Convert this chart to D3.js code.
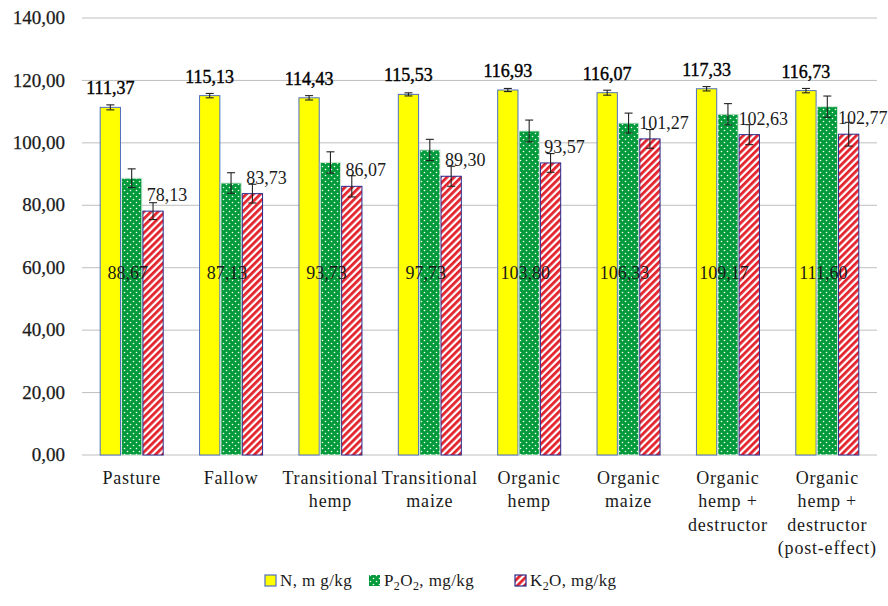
<!DOCTYPE html>
<html>
<head>
<meta charset="utf-8">
<script src="https://cdn.jsdelivr.net/npm/d3@7"></script>
</head>
<body style="margin:0">
<script>
// categories (each one split into the lines shown under the axis)
const categoryLines = [
  ["Pasture"],
  ["Fallow"],
  ["Transitional", "hemp"],
  ["Transitional", "maize"],
  ["Organic", "hemp"],
  ["Organic", "maize"],
  ["Organic", "hemp +", "destructor"],
  ["Organic", "hemp +", "destructor", "(post-effect)"]
];
const categories = categoryLines.map(l => l.join(" "));

const nValues = [111.37, 115.13, 114.43, 115.53, 116.93, 116.07, 117.33, 116.73];
const pValues = [88.67, 87.13, 93.73, 97.73, 103.80, 106.33, 109.17, 111.60];
const kValues = [78.13, 83.73, 86.07, 89.30, 93.57, 101.27, 102.63, 102.77];

// error bars
const nErrors = [0.8, 0.7, 0.7, 0.5, 0.5, 0.8, 0.7, 0.7];
const pErrors = [3.0, 3.3, 3.4, 3.4, 3.5, 3.2, 3.4, 3.4];
const kErrors = [2.7, 3.0, 3.4, 3.2, 3.0, 3.0, 3.2, 3.8];

const yTicks = [0, 20, 40, 60, 80, 100, 120, 140];

const INK = "#1a1a1a";

const width = 888, height = 606;
const margin = { top: 18, right: 11, bottom: 151, left: 82 };

const locale = d3.formatLocale({ decimal: ",", thousands: " ", grouping: [3], currency: ["", ""] });
const fmt = locale.format(".2f");

const svg = d3.select("body").append("svg")
  .attr("width", width)
  .attr("height", height);

// patterns
const defs = svg.append("defs");

const dots = defs.append("pattern")
  .attr("id", "dots")
  .attr("patternUnits", "userSpaceOnUse")
  .attr("width", 6).attr("height", 6);
dots.append("rect").attr("width", 6).attr("height", 6).attr("fill", "#009a3a");
dots.append("circle").attr("cx", 1.5).attr("cy", 1.5).attr("r", 0.8).attr("fill", "#fff");
dots.append("circle").attr("cx", 4.5).attr("cy", 4.5).attr("r", 0.8).attr("fill", "#fff");

const hatch = defs.append("pattern")
  .attr("id", "hatch")
  .attr("patternUnits", "userSpaceOnUse")
  .attr("width", 5).attr("height", 5)
  .attr("patternTransform", "rotate(45)");
hatch.append("rect").attr("width", 5).attr("height", 5).attr("fill", "#fff");
hatch.append("rect").attr("width", 2.8).attr("height", 5).attr("fill", "#e3232c");

const series = [
  { key: "N", values: nValues, errors: nErrors, fill: "#ffff00", stroke: "#4f6fc0" },
  { key: "P", values: pValues, errors: pErrors, fill: "url(#dots)", stroke: "#cfe8d6" },
  { key: "K", values: kValues, errors: kErrors, fill: "url(#hatch)", stroke: "#2a2a8c" }
];

const x0 = d3.scaleBand()
  .domain(categories)
  .range([margin.left, width - margin.right])
  .paddingInner(0.366)
  .paddingOuter(0.183);

const x1 = d3.scaleBand()
  .domain(series.map(s => s.key))
  .range([0, x0.bandwidth()])
  .paddingInner(0.05);

const y = d3.scaleLinear()
  .domain([0, 140])
  .range([height - margin.bottom, margin.top]);

// Grid lines
svg.append("g")
  .selectAll("line")
  .data(yTicks)
  .join("line")
  .attr("x1", margin.left)
  .attr("x2", width - margin.right)
  .attr("y1", d => y(d))
  .attr("y2", d => y(d))
  .attr("stroke", "#bfbfbf")
  .attr("stroke-width", 1);

// Y tick labels
svg.append("g")
  .selectAll("text")
  .data(yTicks)
  .join("text")
  .attr("x", margin.left - 17)
  .attr("y", d => y(d))
  .attr("dy", "0.32em")
  .attr("text-anchor", "end")
  .attr("font-size", 19)
  .style("font-family", "Liberation Serif")
  .attr("fill", INK)
  .attr("stroke", INK)
  .attr("stroke-width", 0.25)
  .text(d => fmt(d));

// Bars
const groups = svg.append("g")
  .selectAll("g")
  .data(series)
  .join("g");

const cells = s => s.values.map((v, i) => ({ s, v, e: s.errors[i], c: categories[i] }));

groups.selectAll("rect")
  .data(cells)
  .join("rect")
  .attr("x", d => x0(d.c) + x1(d.s.key))
  .attr("y", d => y(d.v))
  .attr("width", x1.bandwidth())
  .attr("height", d => y(0) - y(d.v))
  .attr("fill", d => d.s.fill)
  .attr("stroke", d => d.s.stroke)
  .attr("stroke-width", 1);

// Error bars
const errs = groups.selectAll("g.err")
  .data(cells)
  .join("g")
  .attr("class", "err")
  .attr("transform", d => `translate(${x0(d.c) + x1(d.s.key) + x1.bandwidth() / 2},0)`);

errs.append("line")
  .attr("y1", d => y(d.v + d.e))
  .attr("y2", d => y(d.v - d.e))
  .attr("stroke", "#222").attr("stroke-width", 1.1);
errs.selectAll("line.cap")
  .data(d => [d.v + d.e, d.v - d.e])
  .join("line")
  .attr("class", "cap")
  .attr("x1", -4).attr("x2", 4)
  .attr("y1", d => y(d)).attr("y2", d => y(d))
  .attr("stroke", "#222").attr("stroke-width", 1.1);

// Value labels
const labels = svg.append("g");

labels.selectAll("text.n")
  .data(nValues)
  .join("text")
  .attr("class", "n")
  .attr("x", (d, i) => x0(categories[i]) + x1("N") + x1.bandwidth() / 2)
  .attr("y", d => y(d) - 13)
  .attr("text-anchor", "middle")
  .attr("font-size", 18)
  .style("font-family", "Liberation Serif")
  .attr("fill", "#000")
  .attr("stroke", "#000")
  .attr("stroke-width", 0.4)
  .text(d => fmt(d));

labels.selectAll("text.p")
  .data(pValues)
  .join("text")
  .attr("class", "p")
  .attr("x", (d, i) => x0(categories[i]) + x1("P") + x1.bandwidth() / 2 - 4)
  .attr("y", y(56.5))
  .attr("text-anchor", "middle")
  .attr("font-size", 18)
  .style("font-family", "Liberation Serif")
  .attr("fill", INK)
  .text(d => fmt(d));

labels.selectAll("text.k")
  .data(kValues)
  .join("text")
  .attr("class", "k")
  .attr("x", (d, i) => x0(categories[i]) + x1("K") + x1.bandwidth() / 2 + 14)
  .attr("y", d => y(d) - 10)
  .attr("text-anchor", "middle")
  .attr("font-size", 18)
  .style("font-family", "Liberation Serif")
  .attr("fill", INK)
  .text(d => fmt(d));

// Category labels, one text per line
const catLines = categoryLines.flatMap((lines, i) =>
  lines.map((t, j) => ({ t, j, c: categories[i] })));

svg.append("g")
  .selectAll("text")
  .data(catLines)
  .join("text")
  .attr("x", d => x0(d.c) + x0.bandwidth() / 2)
  .attr("y", d => y(0) + 29 + d.j * 23.3)
  .attr("text-anchor", "middle")
  .attr("font-size", 18)
  .style("font-family", "Liberation Serif")
  .attr("fill", INK)
  .attr("letter-spacing", 0.8)
  .text(d => d.t);

// Legend
const legend = svg.append("g")
  .attr("transform", `translate(0, ${height - 20})`);

const legendItems = [
  { fill: "#ffff00", stroke: "#4f6fc0", x: 265, parts: [["N, m g/kg", false]] },
  { fill: "url(#dots)", stroke: "none", x: 369, parts: [["P", false], ["2", true], ["O", false], ["2", true], [", mg/kg", false]] },
  { fill: "url(#hatch)", stroke: "#2a2a8c", x: 515, parts: [["K", false], ["2", true], ["O,  mg/kg", false]] }
];

const li = legend.selectAll("g")
  .data(legendItems)
  .join("g")
  .attr("transform", d => `translate(${d.x},0)`);

li.append("rect")
  .attr("x", 0).attr("y", -11)
  .attr("width", 11).attr("height", 11)
  .attr("fill", d => d.fill)
  .attr("stroke", d => d.stroke)
  .attr("stroke-width", 1.2);

const lt = li.append("text")
  .attr("x", 15)
  .attr("y", 0)
  .attr("font-size", 17)
  .style("font-family", "Liberation Serif")
  .attr("fill", INK)
  .attr("letter-spacing", 0.4);

lt.selectAll("tspan")
  .data(d => d.parts)
  .join("tspan")
  .attr("dy", (d, i, nodes) => {
    const prev = i > 0 ? nodes[i - 1].__data__[1] : false;
    if (d[1] && !prev) return 4;
    if (!d[1] && prev) return -4;
    return 0;
  })
  .attr("font-size", d => d[1] ? 12 : 17)
  .text(d => d[0]);
</script>
</body>
</html>
